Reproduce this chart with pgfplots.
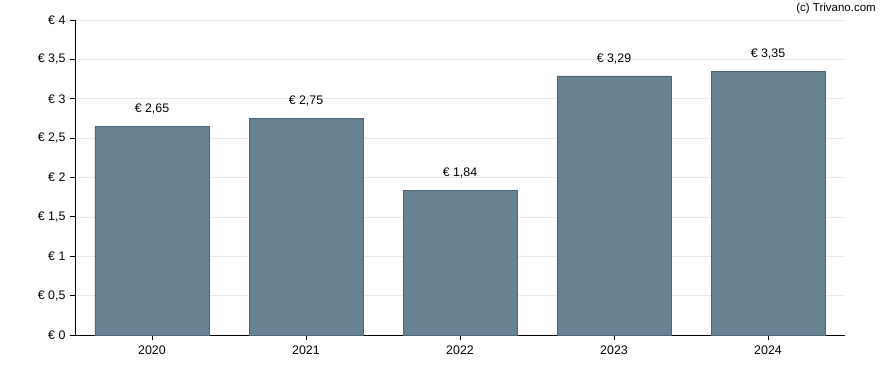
\documentclass[border=0pt]{standalone}
\usepackage{fontspec}
\setmainfont{Liberation Sans}
\usepackage{pgfplots}
\pgfplotsset{compat=1.18}
\definecolor{barfill}{HTML}{668293}
\definecolor{baredge}{HTML}{4A6478}
\begin{document}
\begin{tikzpicture}
\path[use as bounding box] (-75pt,-35pt) rectangle (813pt,335pt);
\begin{axis}[
  at={(0,0)}, anchor=south west,
  scale only axis, width=770pt, height=315pt,
  xmin=-0.5, xmax=4.5, ymin=0, ymax=4,
  axis x line*=bottom, axis y line*=left,
  axis line style={-, black, line width=0.8pt},
  xtick={0,1,2,3,4},
  xticklabels={2020,2021,2022,2023,2024},
  ytick={0,0.5,1,1.5,2,2.5,3,3.5,4},
  yticklabels={€ 0,{€ 0,5},€ 1,{€ 1,5},€ 2,{€ 2,5},€ 3,{€ 3,5},€ 4},
  tick align=outside, major tick length=5pt,
  tick style={black, line width=0.8pt},
  ymajorgrids, grid style={gray!18, line width=0.6pt},
  ticklabel style={font=\fontsize{12.4}{14}\selectfont},
  yticklabel style={xshift=-1pt},
  xticklabel style={yshift=-2pt},
  ybar, bar width=114pt,
  nodes near coords={€ \pgfmathprintnumber[fixed, fixed zerofill, precision=2, use comma, assume math mode=true]{\pgfplotspointmeta}},
  every node near coord/.append style={font=\fontsize{12.4}{14}\selectfont, anchor=center, yshift=17pt, black},
  clip=false,
]
\addplot[fill=barfill, draw=baredge, line width=0.8pt] coordinates {(0,2.65) (1,2.75) (2,1.84) (3,3.29) (4,3.35)};
\node[anchor=north east, font=\fontsize{11.5}{13}\selectfont, inner sep=0pt] at ([xshift=31pt, yshift=17pt]rel axis cs:1,1) {(c) Trivano.com};
\end{axis}
\end{tikzpicture}
\end{document}
